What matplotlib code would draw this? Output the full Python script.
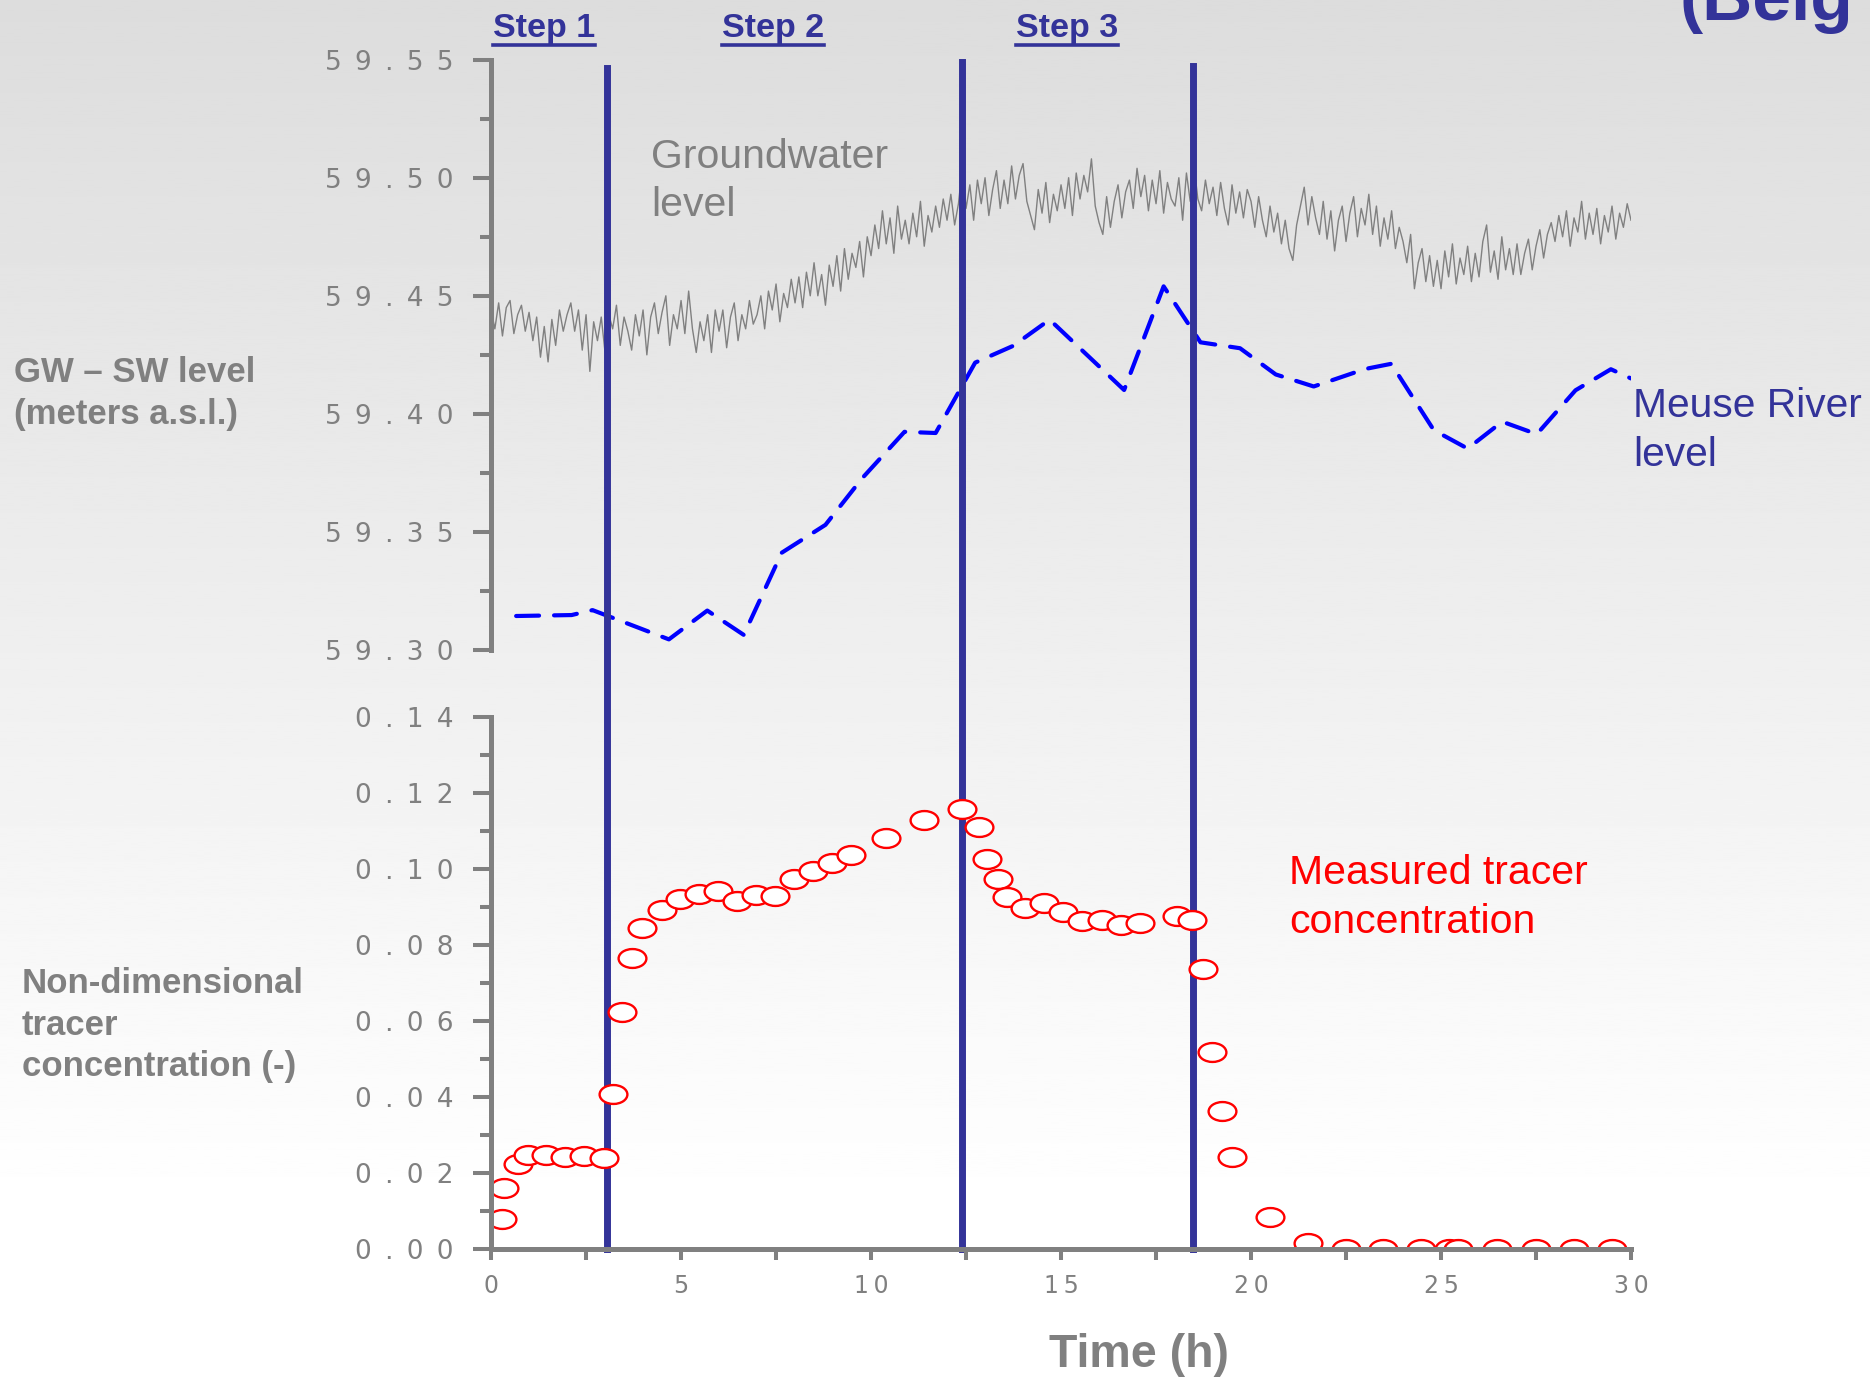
import numpy as np
import matplotlib
matplotlib.use("Agg")
import matplotlib.pyplot as plt
from matplotlib.path import Path
from matplotlib.lines import Line2D
from matplotlib import transforms, font_manager
from matplotlib.ticker import FixedLocator, FixedFormatter, MultipleLocator

# --- data -----------------------------------------------------------------
# groundwater level logged every 0.1 h (m a.s.l.), one row per hour
gw_rows = [
    [59.444, 59.436, 59.447, 59.433, 59.445, 59.448, 59.434, 59.442, 59.446, 59.435],
    [59.443, 59.431, 59.441, 59.424, 59.437, 59.422, 59.440, 59.429, 59.444, 59.435],
    [59.442, 59.447, 59.435, 59.444, 59.427, 59.442, 59.418, 59.439, 59.431, 59.441],
    [59.426, 59.442, 59.436, 59.446, 59.429, 59.441, 59.435, 59.427, 59.442, 59.433],
    [59.444, 59.425, 59.441, 59.447, 59.434, 59.443, 59.450, 59.429, 59.442, 59.436],
    [59.448, 59.434, 59.452, 59.436, 59.426, 59.439, 59.431, 59.442, 59.426, 59.444],
    [59.435, 59.444, 59.428, 59.441, 59.447, 59.431, 59.442, 59.436, 59.448, 59.438],
    [59.442, 59.450, 59.436, 59.452, 59.444, 59.455, 59.439, 59.451, 59.445, 59.457],
    [59.447, 59.458, 59.445, 59.460, 59.450, 59.464, 59.450, 59.459, 59.446, 59.463],
    [59.454, 59.467, 59.452, 59.470, 59.457, 59.468, 59.462, 59.473, 59.458, 59.475],
    [59.467, 59.480, 59.470, 59.486, 59.472, 59.483, 59.468, 59.488, 59.474, 59.482],
    [59.472, 59.485, 59.475, 59.490, 59.471, 59.484, 59.477, 59.488, 59.479, 59.491],
    [59.482, 59.493, 59.480, 59.489, 59.504, 59.487, 59.497, 59.482, 59.499, 59.489],
    [59.500, 59.484, 59.495, 59.503, 59.487, 59.499, 59.489, 59.505, 59.491, 59.501],
    [59.506, 59.490, 59.484, 59.478, 59.495, 59.485, 59.498, 59.481, 59.493, 59.486],
    [59.497, 59.487, 59.500, 59.484, 59.502, 59.491, 59.501, 59.494, 59.508, 59.488],
    [59.481, 59.476, 59.492, 59.479, 59.490, 59.497, 59.483, 59.494, 59.499, 59.487],
    [59.504, 59.492, 59.501, 59.486, 59.499, 59.489, 59.503, 59.485, 59.498, 59.491],
    [59.488, 59.500, 59.482, 59.502, 59.490, 59.505, 59.491, 59.486, 59.499, 59.489],
    [59.496, 59.484, 59.498, 59.487, 59.480, 59.497, 59.485, 59.494, 59.483, 59.495],
    [59.490, 59.479, 59.492, 59.482, 59.475, 59.488, 59.477, 59.485, 59.472, 59.482],
    [59.470, 59.465, 59.480, 59.488, 59.496, 59.480, 59.492, 59.483, 59.476, 59.490],
    [59.474, 59.486, 59.469, 59.482, 59.488, 59.473, 59.485, 59.492, 59.475, 59.487],
    [59.480, 59.493, 59.476, 59.488, 59.471, 59.483, 59.474, 59.486, 59.470, 59.479],
    [59.473, 59.464, 59.476, 59.453, 59.464, 59.470, 59.456, 59.467, 59.454, 59.465],
    [59.453, 59.469, 59.458, 59.472, 59.455, 59.466, 59.459, 59.471, 59.456, 59.468],
    [59.458, 59.473, 59.480, 59.460, 59.469, 59.457, 59.475, 59.461, 59.470, 59.459],
    [59.472, 59.459, 59.468, 59.474, 59.461, 59.471, 59.478, 59.466, 59.476, 59.481],
    [59.473, 59.484, 59.475, 59.486, 59.471, 59.483, 59.477, 59.490, 59.474, 59.485],
    [59.476, 59.487, 59.472, 59.484, 59.477, 59.488, 59.474, 59.485, 59.479, 59.489],
    [59.482],
]
gw_level = np.concatenate([np.array(r) for r in gw_rows])
gw_time = np.arange(len(gw_level)) * 0.1

# Meuse river stage (m a.s.l.)
river_time = [0.66, 2.12, 2.67, 4.68, 5.69, 6.65, 7.65, 8.80, 9.77, 10.88, 11.70,
              12.74, 13.74, 14.70, 16.66, 17.70, 18.67, 19.71, 20.65, 21.65, 23.00,
              23.69, 24.81, 25.70, 26.61, 27.52, 28.54, 29.47, 30.0]
river_level = [59.3144, 59.3148, 59.3169, 59.3045, 59.3167, 59.3064, 59.3412, 59.3530,
               59.3728, 59.3924, 59.3919, 59.4217, 59.4288, 59.4399, 59.4101, 59.4540,
               59.4303, 59.4278, 59.4167, 59.4116, 59.4190, 59.4212, 59.3931, 59.3853,
               59.3967, 59.3914, 59.4100, 59.4189, 59.4150]

# measured tracer concentration (-)
tracer_time = [0.28, 0.35, 0.72, 0.97, 1.44, 1.95, 2.45, 2.98, 3.20, 3.45, 3.70, 3.98,
               4.49, 4.96, 5.46, 5.96, 6.46, 6.97, 7.47, 7.97, 8.47, 8.97, 9.48, 10.39,
               11.39, 12.39, 12.83, 13.05, 13.34, 13.59, 14.06, 14.56, 15.06, 15.56,
               16.07, 16.57, 17.07, 18.04, 18.45, 18.73, 18.98, 19.23, 19.49, 20.49,
               21.49, 22.50, 23.47, 24.47, 25.20, 25.45, 26.48, 27.49, 28.49, 29.50]
tracer_conc = [0.0078, 0.0160, 0.0223, 0.0248, 0.0248, 0.0242, 0.0245, 0.0239, 0.0408,
               0.0625, 0.0766, 0.0844, 0.0891, 0.0920, 0.0935, 0.0942, 0.0917, 0.0932,
               0.0929, 0.0973, 0.0995, 0.1017, 0.1036, 0.1083, 0.1130, 0.1158, 0.1111,
               0.1026, 0.0973, 0.0926, 0.0898, 0.0910, 0.0888, 0.0863, 0.0866, 0.0854,
               0.0857, 0.0876, 0.0866, 0.0738, 0.0518, 0.0364, 0.0242, 0.0085, 0.0016,
               0.0, 0.0, 0.0, 0.0, 0.0, 0.0, 0.0, 0.0, 0.0]

# start of injection steps (h)
step_times = [3.05, 12.40, 18.48]
step_names = ["Step 1", "Step 2", "Step 3"]
step_label_x = [1.39, 7.42, 15.16]

level_ticks = [59.30, 59.35, 59.40, 59.45, 59.50, 59.55]
conc_ticks = [0.00, 0.02, 0.04, 0.06, 0.08, 0.10, 0.12, 0.14]
time_ticks = [0, 5, 10, 15, 20, 25, 30]

# --- style ------------------------------------------------------------------
GREY = "#808080"
NAVY = "#333399"
SANS = "Liberation Sans"
SEP = "\u2002"


def spaced(s, sep=SEP):
    return sep.join(list(s))


def pick_font(names, default):
    for n in names:
        try:
            font_manager.findfont(n, fallback_to_default=False)
            return n
        except Exception:
            pass
    return default


narrow = pick_font(["Liberation Sans Narrow", "DejaVu Sans Condensed"], "DejaVu Sans")

fig = plt.figure(figsize=(18.7, 13.78), dpi=100, facecolor="white")

# soft grey-to-white backdrop
bg = fig.add_axes([0, 0, 1, 1], zorder=-5)
grad = np.clip(0.865 + 0.135 * np.linspace(0, 1, 600) / 0.88, 0, 1)[:, None]
bg.imshow(grad, cmap="gray", vmin=0, vmax=1, aspect="auto", extent=[0, 1, 0, 1])
bg.axis("off")

ax_top = fig.add_axes([0.2626, 0.5283, 0.6096, 0.4284], zorder=0)
ax_bot = fig.add_axes([0.2626, 0.0936, 0.6096, 0.3860], zorder=2)

for ax in (ax_top, ax_bot):
    ax.patch.set_alpha(0)
    ax.set_xlim(0, 30)
    for side in ("top", "right"):
        ax.spines[side].set_visible(False)
    for side in ("left", "bottom"):
        ax.spines[side].set_color(GREY)
        ax.spines[side].set_linewidth(3.6)
    ax.tick_params(axis="y", which="both", direction="out", color=GREY, width=2.9,
                   labelcolor=GREY, labelsize=19, pad=14)
    ax.tick_params(axis="y", which="major", length=13)
    ax.tick_params(axis="y", which="minor", length=8)

# groundwater / river panel
ax_top.spines["bottom"].set_visible(False)
ax_top.set_xticks([])
ax_top.set_ylim(59.30, 59.55)
ax_top.yaxis.set_major_locator(FixedLocator(level_ticks))
ax_top.yaxis.set_major_formatter(FixedFormatter([spaced(f"{v:.2f}") for v in level_ticks]))
ax_top.yaxis.set_minor_locator(MultipleLocator(0.025))
ax_top.plot(gw_time, gw_level, color=GREY, lw=1.0)
ax_top.plot(river_time, river_level, color="#0000ff", lw=3.0, ls=(0, (5.5, 3.6)),
            dash_capstyle="round")

# tracer panel
ax_bot.set_ylim(0, 0.14)
ax_bot.yaxis.set_major_locator(FixedLocator(conc_ticks))
ax_bot.yaxis.set_major_formatter(FixedFormatter([spaced(f"{v:.2f}") for v in conc_ticks]))
ax_bot.yaxis.set_minor_locator(MultipleLocator(0.01))
ax_bot.xaxis.set_major_locator(FixedLocator(time_ticks))
ax_bot.xaxis.set_major_formatter(FixedFormatter([spaced(str(v), "\u2009") for v in time_ticks]))
ax_bot.xaxis.set_minor_locator(MultipleLocator(2.5))
ax_bot.tick_params(axis="x", which="both", direction="out", length=8, width=2.9,
                   color=GREY, labelcolor=GREY, labelsize=17, pad=10)
for lab in ax_bot.get_xticklabels():
    lab.set_fontfamily(narrow)

ellipse = Path.unit_circle().transformed(transforms.Affine2D().scale(1.0, 0.68))
ax_bot.plot(tracer_time, tracer_conc, ls="none", marker=ellipse, markersize=20,
            markerfacecolor="white", markeredgecolor="red", markeredgewidth=1.7)

# injection step markers running across both panels
step_tf = transforms.blended_transform_factory(ax_bot.transData, fig.transFigure)
for t, top in zip(step_times, [0.9507, 0.955, 0.9524]):
    fig.add_artist(Line2D([t, t], [0.0936, top], transform=step_tf, color=NAVY,
                          lw=5.0, zorder=1))

step_texts = []
for x, name in zip(step_label_x, step_names):
    step_texts.append(fig.text(x, 0.979, name, transform=step_tf, ha="center",
                               va="center", color=NAVY, fontsize=24.5,
                               fontweight="bold", family=SANS))

# annotations
fig.text(0.0077, 0.7144, "GW \u2013 SW level\n(meters a.s.l.)", ha="left", va="center",
         color=GREY, fontsize=25, fontweight="bold", family=SANS, linespacing=1.33)
fig.text(0.0115, 0.256, "Non-dimensional\ntracer\nconcentration (-)", ha="left",
         va="center", color=GREY, fontsize=25, fontweight="bold", family=SANS,
         linespacing=1.33)
fig.text(0.348, 0.8687, "Groundwater\nlevel", ha="left", va="center", color=GREY,
         fontsize=29.5, family=SANS, linespacing=1.34)
fig.text(0.8733, 0.6876, "Meuse River\nlevel", ha="left", va="center", color=NAVY,
         fontsize=29.3, family=SANS, linespacing=1.34)
fig.text(0.6893, 0.3487, "Measured tracer\nconcentration", ha="left", va="center",
         color="red", fontsize=29.5, family=SANS, linespacing=1.34)
fig.text(0.609, 0.0166, "Time (h)", ha="center", va="center", color=GREY,
         fontsize=33.5, fontweight="bold", family=SANS)
fig.text(0.898, 0.9855, "(Belg", ha="left", va="baseline", color=NAVY,
         fontsize=50, fontweight="bold", family=SANS)

# underline the step headings
fig.canvas.draw()
renderer = fig.canvas.get_renderer()
for txt in step_texts:
    bb = txt.get_window_extent(renderer).transformed(fig.transFigure.inverted())
    fig.add_artist(Line2D([bb.x0, bb.x1], [0.967, 0.967], transform=fig.transFigure,
                          color=NAVY, lw=2.6))

fig.savefig("out.png", dpi=100)
